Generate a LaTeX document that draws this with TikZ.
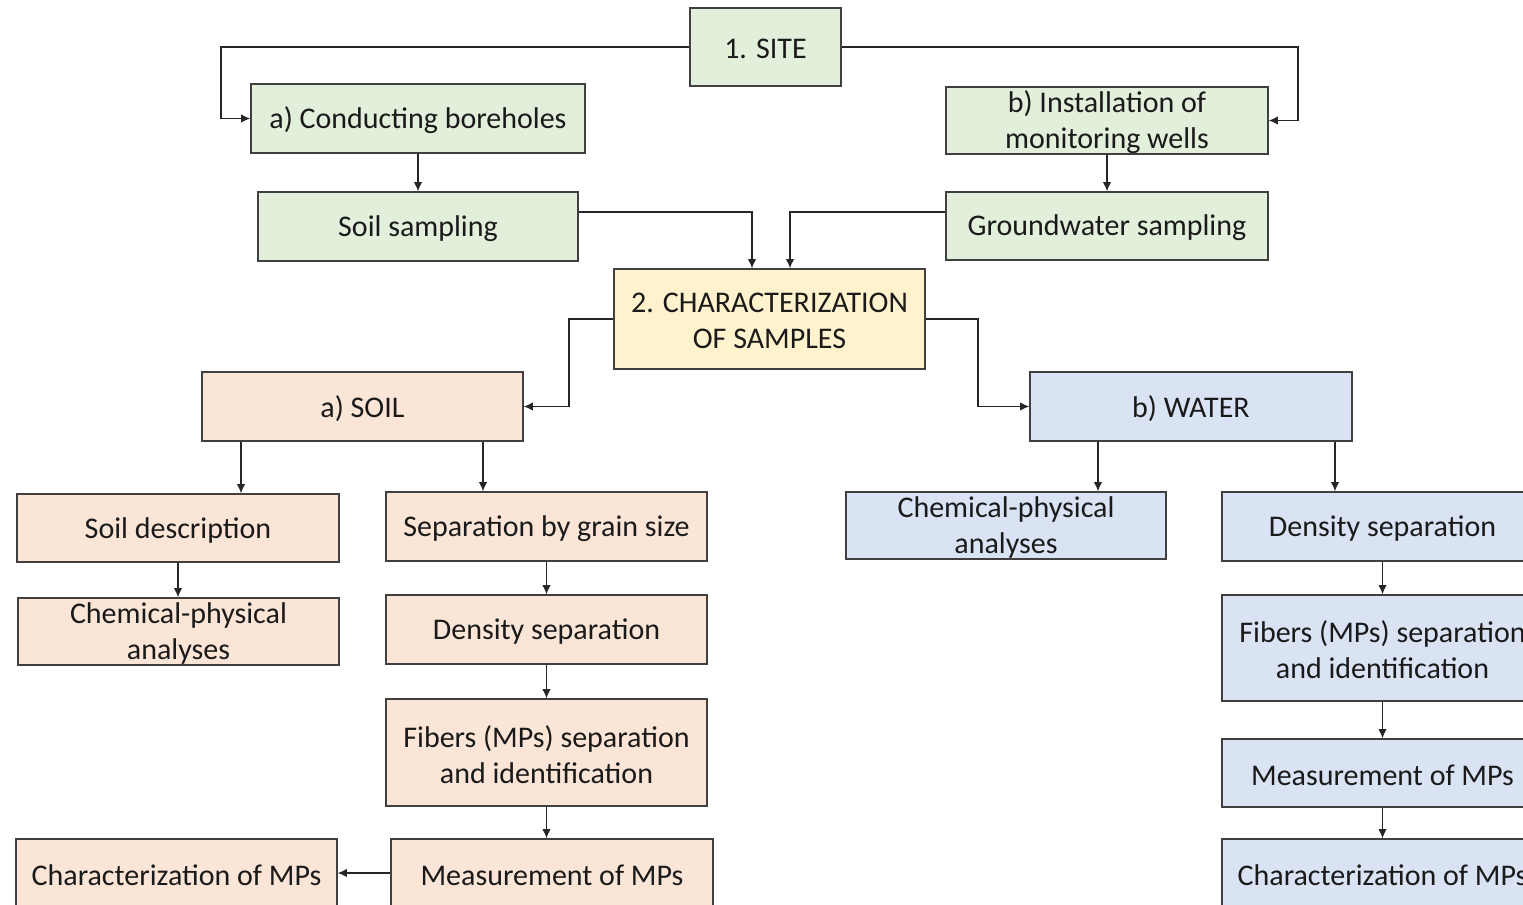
\documentclass[tikz,border=0pt]{standalone}
\usepackage{fontspec}
\setmainfont{Carlito}
\usetikzlibrary{calc,arrows.meta}
\definecolor{gfill}{HTML}{E2EFDA}
\definecolor{yfill}{HTML}{FFF2CC}
\definecolor{pfill}{HTML}{FBE5D6}
\definecolor{bfill}{HTML}{DAE3F3}
\definecolor{bord}{HTML}{404040}
\definecolor{txt}{HTML}{1A1A1A}
\tikzset{
  box/.style={draw=bord,line width=0.7pt,rectangle,inner sep=0pt},
  lbl/.style={text=txt,font=\fontsize{15}{18}\selectfont,align=center,inner sep=0pt},
  arr/.style={draw=black!85,line width=0.6pt,-{Latex[length=4.6pt,width=4.2pt]}}
}
\newcommand\bx[7]{\node[box,fill=#6,minimum width={(#4-#2)*0.5pt},minimum height={(#5-#3)*0.5pt}] (#1) at ({(#2+#4)/2},{(#3+#5)/2}) {};
\node[lbl] (#1t) at ($(#1.center)+(0,2)$) {#7};}
\begin{document}
\begin{tikzpicture}[x=0.5pt,y=-0.5pt]
\useasboundingbox (0,0) rectangle (1523,905);
\clip (0,0) rectangle (1523,905);
% boxes
\bx{site}{690}{8}{841}{86}{gfill}{1. SITE}
\bx{cb}{251}{84}{585}{153}{gfill}{a) Conducting boreholes}
\bx{inst}{946}{87}{1268}{154}{gfill}{b) Installation of\\monitoring wells}
\bx{ss}{258}{192}{578}{261}{gfill}{Soil sampling}
\bx{gw}{946}{192}{1268}{260}{gfill}{Groundwater sampling}
\bx{char}{614}{269}{925}{369}{yfill}{2. CHARACTERIZATION\\OF SAMPLES}
\bx{soil}{202}{372}{523}{441}{pfill}{a) SOIL}
\bx{water}{1030}{372}{1352}{441}{bfill}{b) WATER}
\bx{sd}{17}{494}{339}{562}{pfill}{Soil description}
\bx{scp}{18}{598}{339}{665}{pfill}{Chemical-physical\\analyses}
\bx{sg}{386}{492}{707}{561}{pfill}{Separation by grain size}
\bx{sds}{386}{595}{707}{664}{pfill}{Density separation}
\bx{sfib}{386}{699}{707}{806}{pfill}{Fibers (MPs) separation\\and identification}
\bx{smeas}{391}{839}{713}{907}{pfill}{Measurement of MPs}
\bx{schar}{16}{839}{337}{907}{pfill}{Characterization of MPs}
\bx{wcp}{846}{492}{1166}{559}{bfill}{Chemical-physical\\analyses}
\bx{wds}{1222}{492}{1543}{561}{bfill}{Density separation}
\bx{wfib}{1222}{595}{1543}{701}{bfill}{Fibers (MPs) separation\\and identification}
\bx{wmeas}{1222}{739}{1543}{807}{bfill}{Measurement of MPs}
\bx{wchar}{1222}{839}{1543}{907}{bfill}{Characterization of MPs}
% helper coordinates
\coordinate (xh) at (221,0);
\coordinate (xi) at (1298,0);
\coordinate (ya) at (0,212);
\coordinate (xd) at (752,0);
\coordinate (xe) at (790,0);
\coordinate (xf) at (569,0);
\coordinate (xg) at (978,0);
\coordinate (xa1) at (241,0);
\coordinate (xa2) at (483,0);
\coordinate (xb1) at (1098,0);
\coordinate (xb2) at (1335,0);
% connectors
\draw[arr] (site.west) -| (xh |- cb.west) -- (cb.west);
\draw[arr] (site.east) -| (xi |- inst.east) -- (inst.east);
\draw[arr] (cb.south) -- (ss.north);
\draw[arr] (inst.south) -- (gw.north);
\draw[arr] (ss.east |- ya) -| (char.north -| xd);
\draw[arr] (gw.west |- ya) -| (char.north -| xe);
\draw[arr] (char.west) -| (xf |- soil.east) -- (soil.east);
\draw[arr] (char.east) -| (xg |- water.west) -- (water.west);
\draw[arr] (soil.south -| xa1) -- (sd.north -| xa1);
\draw[arr] (soil.south -| xa2) -- (sg.north -| xa2);
\draw[arr] (sd.south) -- (sd.south |- scp.north);
\draw[arr] (sg.south) -- (sds.north);
\draw[arr] (sds.south) -- (sfib.north);
\draw[arr] (sfib.south) -- (sfib.south |- smeas.north);
\draw[arr] (smeas.west) -- (schar.east);
\draw[arr] (water.south -| xb1) -- (wcp.north -| xb1);
\draw[arr] (water.south -| xb2) -- (wds.north -| xb2);
\draw[arr] (wds.south) -- (wfib.north);
\draw[arr] (wfib.south) -- (wmeas.north);
\draw[arr] (wmeas.south) -- (wchar.north);
\end{tikzpicture}
\end{document}
